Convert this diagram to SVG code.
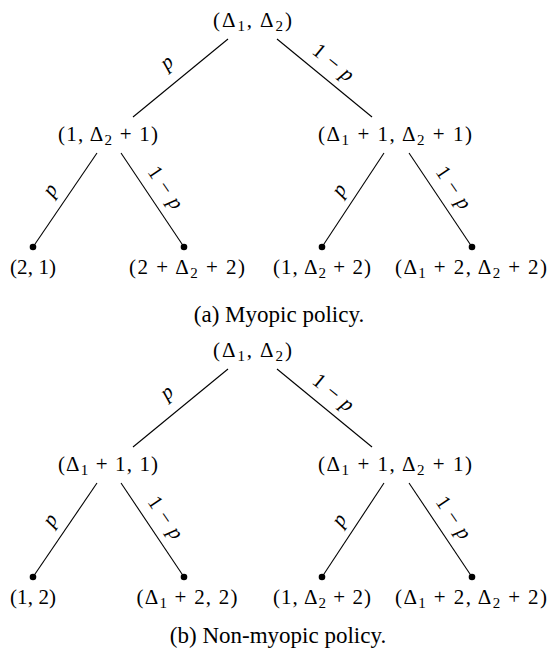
<svg xmlns="http://www.w3.org/2000/svg" width="554" height="658" viewBox="0 0 554 658">
<style>
.m{font-family:"Liberation Serif","DejaVu Serif",serif;font-size:21px;text-anchor:middle;fill:#000}
.s{font-size:15px}
.i{font-style:italic}
.cap{font-family:"Liberation Serif","Times New Roman",serif;font-size:23px;text-anchor:middle;fill:#000}
.e{stroke:#000;stroke-width:1.1;fill:none}
.d{fill:#000}
</style>
<rect width="554" height="658" fill="#fff"/>
<!-- (a) -->
<g id="connectors-a">
<line class="e" x1="228" y1="39" x2="133" y2="117"/>
<line class="e" x1="277" y1="39" x2="372" y2="117"/>
<line class="e" x1="97" y1="153" x2="33" y2="247"/>
<line class="e" x1="121" y1="153" x2="184" y2="247"/>
<line class="e" x1="384" y1="153" x2="322" y2="247"/>
<line class="e" x1="409" y1="153" x2="472" y2="247"/>
<text class="m i" transform="translate(169,65) rotate(-39.4)" y="3">p</text>
<text class="m" transform="translate(333,63) rotate(39.4)" y="6" textLength="47" lengthAdjust="spacing">1 − <tspan class="i">p</tspan></text>
<text class="m i" transform="translate(53,192) rotate(-56)" y="3">p</text>
<text class="m" transform="translate(165,188) rotate(56)" y="6" textLength="47" lengthAdjust="spacing">1 − <tspan class="i">p</tspan></text>
<text class="m i" transform="translate(342,192) rotate(-56)" y="3">p</text>
<text class="m" transform="translate(453,188) rotate(56)" y="6" textLength="47" lengthAdjust="spacing">1 − <tspan class="i">p</tspan></text>
</g>
<g id="a-root"><text class="m" x="252.5" y="27" textLength="79" lengthAdjust="spacing">(Δ<tspan class="s" dy="4">1</tspan><tspan dy="-4">, Δ</tspan><tspan class="s" dy="4">2</tspan><tspan dy="-4">)</tspan></text></g>
<g id="a-left"><text class="m" x="108" y="141" textLength="100" lengthAdjust="spacing">(1, Δ<tspan class="s" dy="4">2</tspan><tspan dy="-4"> + 1)</tspan></text></g>
<g id="a-right"><text class="m" x="395" y="141" textLength="154" lengthAdjust="spacing">(Δ<tspan class="s" dy="4">1</tspan><tspan dy="-4"> + 1, Δ</tspan><tspan class="s" dy="4">2</tspan><tspan dy="-4"> + 1)</tspan></text></g>
<g id="a-leaf1"><circle class="d" cx="33" cy="247" r="3.3"/><text class="m" x="33" y="274" textLength="46" lengthAdjust="spacing">(2, 1)</text></g>
<g id="a-leaf2"><circle class="d" cx="184" cy="247" r="3.3"/><text class="m" x="187" y="274" textLength="116" lengthAdjust="spacing">(2 + Δ<tspan class="s" dy="4">2</tspan><tspan dy="-4"> + 2)</tspan></text></g>
<g id="a-leaf3"><circle class="d" cx="322" cy="247" r="3.3"/><text class="m" x="322" y="274" textLength="98" lengthAdjust="spacing">(1, Δ<tspan class="s" dy="4">2</tspan><tspan dy="-4"> + 2)</tspan></text></g>
<g id="a-leaf4"><circle class="d" cx="472" cy="247" r="3.3"/><text class="m" x="471" y="274" textLength="152" lengthAdjust="spacing">(Δ<tspan class="s" dy="4">1</tspan><tspan dy="-4"> + 2, Δ</tspan><tspan class="s" dy="4">2</tspan><tspan dy="-4"> + 2)</tspan></text></g>
<g id="caption-a"><text class="cap" x="279" y="322">(a) Myopic policy.</text></g>
<!-- (b) -->
<g id="connectors-b">
<line class="e" x1="228" y1="369" x2="133" y2="447"/>
<line class="e" x1="277" y1="369" x2="372" y2="447"/>
<line class="e" x1="97" y1="483" x2="33" y2="577"/>
<line class="e" x1="121" y1="483" x2="184" y2="577"/>
<line class="e" x1="384" y1="483" x2="322" y2="577"/>
<line class="e" x1="409" y1="483" x2="472" y2="577"/>
<text class="m i" transform="translate(169,395) rotate(-39.4)" y="3">p</text>
<text class="m" transform="translate(333,393) rotate(39.4)" y="6" textLength="47" lengthAdjust="spacing">1 − <tspan class="i">p</tspan></text>
<text class="m i" transform="translate(53,522) rotate(-56)" y="3">p</text>
<text class="m" transform="translate(165,518) rotate(56)" y="6" textLength="47" lengthAdjust="spacing">1 − <tspan class="i">p</tspan></text>
<text class="m i" transform="translate(342,522) rotate(-56)" y="3">p</text>
<text class="m" transform="translate(453,518) rotate(56)" y="6" textLength="47" lengthAdjust="spacing">1 − <tspan class="i">p</tspan></text>
</g>
<g id="b-root"><text class="m" x="252.5" y="357" textLength="79" lengthAdjust="spacing">(Δ<tspan class="s" dy="4">1</tspan><tspan dy="-4">, Δ</tspan><tspan class="s" dy="4">2</tspan><tspan dy="-4">)</tspan></text></g>
<g id="b-left"><text class="m" x="108" y="471" textLength="100" lengthAdjust="spacing">(Δ<tspan class="s" dy="4">1</tspan><tspan dy="-4"> + 1, 1)</tspan></text></g>
<g id="b-right"><text class="m" x="395" y="471" textLength="154" lengthAdjust="spacing">(Δ<tspan class="s" dy="4">1</tspan><tspan dy="-4"> + 1, Δ</tspan><tspan class="s" dy="4">2</tspan><tspan dy="-4"> + 1)</tspan></text></g>
<g id="b-leaf1"><circle class="d" cx="33" cy="577" r="3.3"/><text class="m" x="33" y="604" textLength="46" lengthAdjust="spacing">(1, 2)</text></g>
<g id="b-leaf2"><circle class="d" cx="184" cy="577" r="3.3"/><text class="m" x="187" y="604" textLength="101" lengthAdjust="spacing">(Δ<tspan class="s" dy="4">1</tspan><tspan dy="-4"> + 2, 2)</tspan></text></g>
<g id="b-leaf3"><circle class="d" cx="322" cy="577" r="3.3"/><text class="m" x="322" y="604" textLength="98" lengthAdjust="spacing">(1, Δ<tspan class="s" dy="4">2</tspan><tspan dy="-4"> + 2)</tspan></text></g>
<g id="b-leaf4"><circle class="d" cx="472" cy="577" r="3.3"/><text class="m" x="471" y="604" textLength="152" lengthAdjust="spacing">(Δ<tspan class="s" dy="4">1</tspan><tspan dy="-4"> + 2, Δ</tspan><tspan class="s" dy="4">2</tspan><tspan dy="-4"> + 2)</tspan></text></g>
<g id="caption-b"><text class="cap" x="278" y="643">(b) Non-myopic policy.</text></g>
</svg>
